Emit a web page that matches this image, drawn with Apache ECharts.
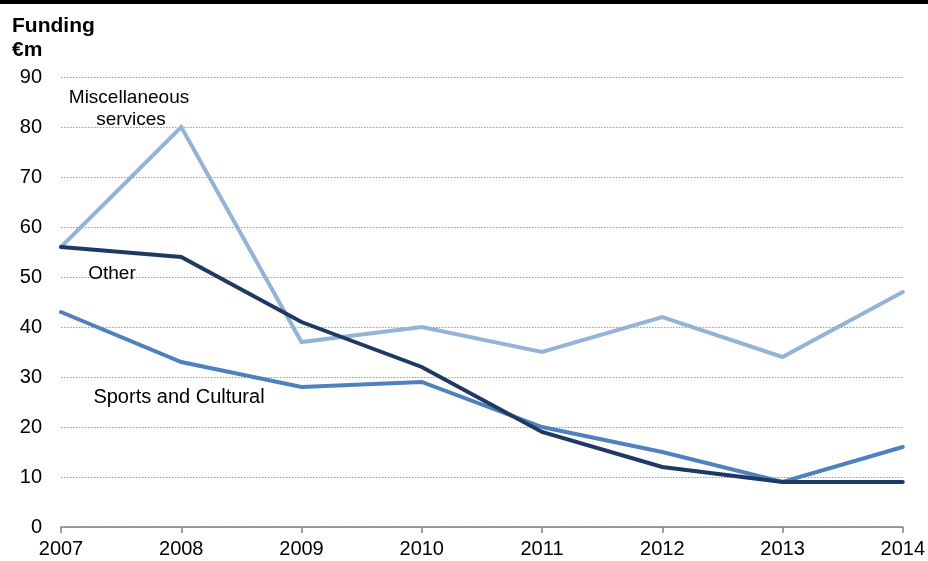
<!DOCTYPE html>
<html>
<head>
<meta charset="utf-8">
<script src="https://cdn.jsdelivr.net/npm/echarts@6/dist/echarts.min.js"></script>
<style>
  html, body { margin: 0; padding: 0; background: #fff; }
  #chart { width: 928px; height: 561px; }
</style>
</head>
<body>
<div id="chart"></div>
<script>
// Funding by category, €m
const years = ['2007', '2008', '2009', '2010', '2011', '2012', '2013', '2014'];
const miscServices = [56, 80, 37, 40, 35, 42, 34, 47];
const other = [56, 54, 41, 32, 19, 12, 9, 9];
const sportsCultural = [43, 33, 28, 29, 20, 15, 9, 16];
const yTicks = [0, 10, 20, 30, 40, 50, 60, 70, 80, 90];

const FONT = 'Liberation Sans, Arial, sans-serif';
const chart = echarts.init(document.getElementById('chart'), null, { renderer: 'canvas' });

function lineSeries(name, data, color, z) {
  return {
    name: name, type: 'line', data: data, symbol: 'none', z: z,
    lineStyle: { color: color, width: 4, cap: 'round', join: 'miter' },
    emphasis: { disabled: true }, animation: false
  };
}

function note(text, x, y, size) {
  return { type: 'text', x: x, y: y, z: 10,
    style: { text: text, font: size + 'px ' + FONT, fill: '#000', align: 'center', verticalAlign: 'middle' } };
}

chart.setOption({
  animation: false,
  grid: { left: 61, right: 25, top: 77, bottom: 34 },
  xAxis: {
    type: 'category', data: years, boundaryGap: false,
    axisLine: { lineStyle: { color: '#808080', width: 1.5 } },
    axisTick: { show: true, length: 6, lineStyle: { color: '#808080', width: 1.5 } },
    axisLabel: { color: '#000', fontFamily: FONT, fontSize: 20, margin: 12 },
    splitLine: { show: false }
  },
  yAxis: {
    type: 'value', min: yTicks[0], max: yTicks[yTicks.length - 1], interval: 10,
    axisLine: { show: false }, axisTick: { show: false },
    axisLabel: { color: '#000', fontFamily: FONT, fontSize: 20, margin: 19 },
    splitLine: { show: true, lineStyle: { color: '#9a9a9a', type: [1.5, 1.5], width: 1 } }
  },
  series: [
    lineSeries('Miscellaneous services', miscServices, '#95b3d7', 2),
    lineSeries('Sports and Cultural', sportsCultural, '#4f81bd', 3),
    lineSeries('Other', other, '#1f3864', 4)
  ],
  graphic: [
    { type: 'rect', left: 0, top: 0, shape: { width: 928, height: 4 }, style: { fill: '#000' } },
    { type: 'text', x: 12, y: 26, style: { text: 'Funding', font: 'bold 21px ' + FONT, fill: '#000', verticalAlign: 'middle' } },
    { type: 'text', x: 12, y: 50, style: { text: '€m', font: 'bold 21px ' + FONT, fill: '#000', verticalAlign: 'middle' } },
    note('Miscellaneous', 129, 98, 19),
    note('services', 131, 120, 19),
    note('Other', 112, 274, 19),
    note('Sports and Cultural', 179, 397, 20)
  ]
});
</script>
</body>
</html>
